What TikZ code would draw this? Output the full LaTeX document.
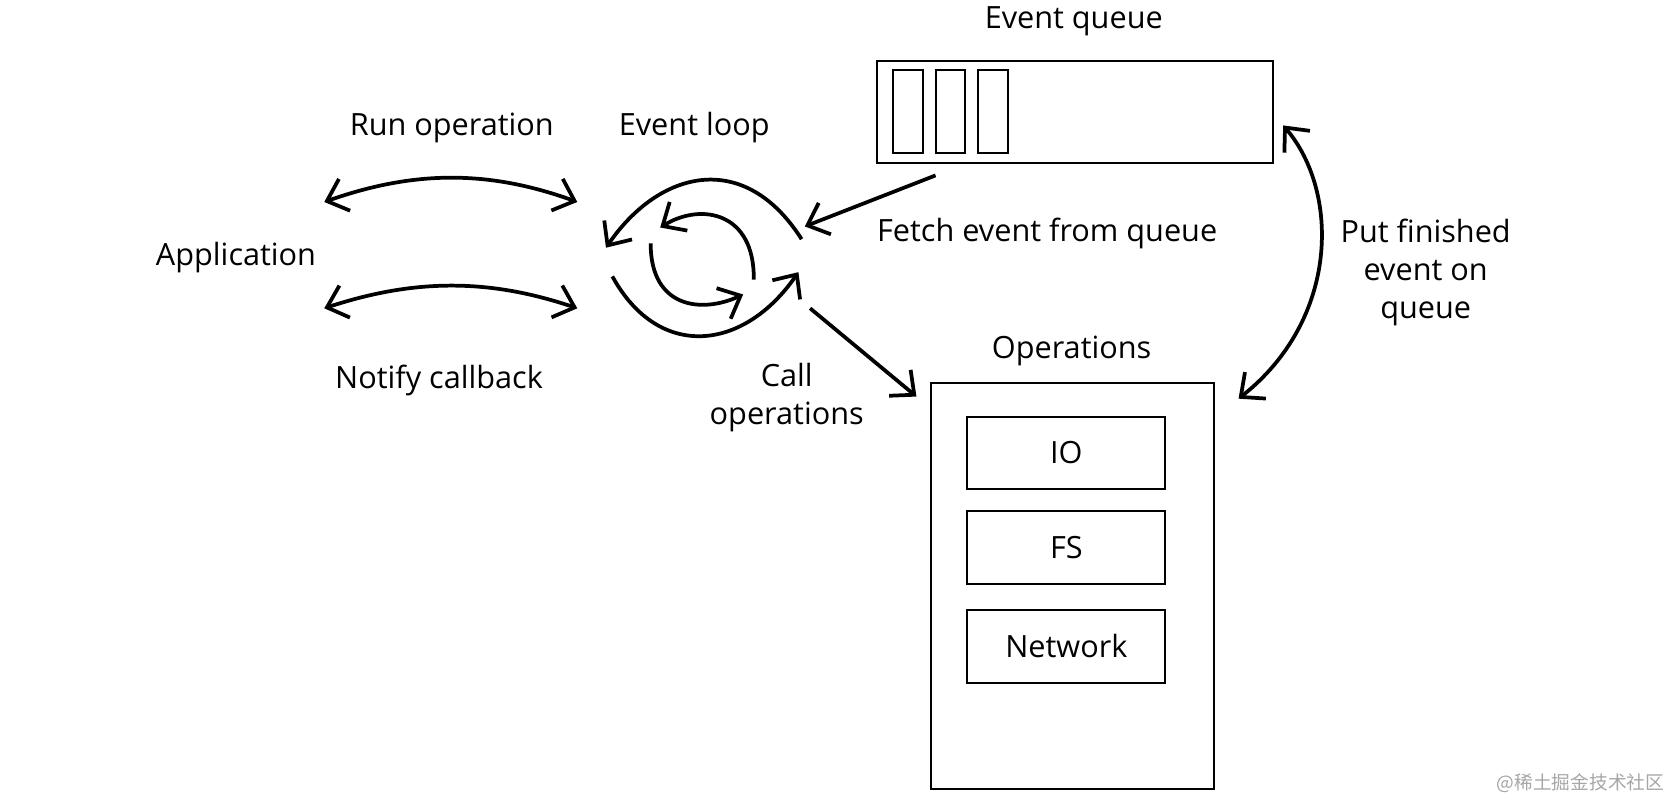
\documentclass[tikz,border=0pt]{standalone}
\usepackage{fontspec}
\setmainfont{Open Sans}
\newfontfamily\cjk{Noto Sans CJK SC}
\usetikzlibrary{arrows.meta}
\begin{document}
\begin{tikzpicture}[x=0.01cm,y=-0.01cm,
  lbl/.style={font=\fontsize{8.2}{10.2}\selectfont,align=center,inner sep=0},
  box/.style={draw,line width=0.55pt,inner sep=0},
  arr/.style={line width=1pt,-{Straight Barb[length=5pt,width=9pt]}},
  darr/.style={line width=1pt,{Straight Barb[length=5pt,width=9pt]}-{Straight Barb[length=5pt,width=9pt]}}]
\useasboundingbox (0,0) rectangle (1568,752);
\node[lbl] (eqt) at (1010,20) {Event queue};
\node[box,minimum width=3.72cm,minimum height=0.96cm] (queue) at (1011,105) {};
\node[box,minimum width=0.28cm,minimum height=0.78cm] (s1) at (854,105) {};
\node[box,minimum width=0.28cm,minimum height=0.78cm] (s2) at (894,105) {};
\node[box,minimum width=0.28cm,minimum height=0.78cm] (s3) at (934,105) {};
\node[lbl] (run) at (425,120) {Run operation};
\node[lbl] (el) at (653,120) {Event loop};
\node[lbl] (app) at (222,242) {Application};
\node[lbl] (nc) at (413,358) {Notify callback};
\node[lbl] (fetch) at (985,220) {Fetch event from queue};
\node[lbl] (call) at (740,374) {Call\\operations};
\node[lbl] (opt) at (1008,330) {Operations};
\node[lbl] (put) at (1341,256) {Put finished\\event on\\queue};
\node[box,minimum width=2.66cm,minimum height=3.82cm] (ops) at (1009,551) {};
\node[box,minimum width=1.86cm,minimum height=0.68cm,font=\fontsize{8.2}{10}\selectfont] (io) at (1003,426) {IO};
\node[box,minimum width=1.86cm,minimum height=0.68cm,font=\fontsize{8.2}{10}\selectfont] (fs) at (1003,515) {FS};
\node[box,minimum width=1.86cm,minimum height=0.68cm,font=\fontsize{8.2}{10}\selectfont] (net) at (1003,608) {Network};
\node[font=\cjk\fontsize{5}{6}\selectfont,text=gray!70,anchor=east,inner sep=0] (wm) at (1566,737) {@稀土掘金技术社区};
\coordinate (a1) at (305,190); \coordinate (a2) at (543,190);
\coordinate (b1) at (305,290); \coordinate (b2) at (543,290);
\coordinate (o1s) at (754,225); \coordinate (o1e) at (570,233);
\coordinate (o2s) at (576,260); \coordinate (o2e) at (751,256);
\coordinate (i1s) at (709,263); \coordinate (i1e) at (621,214);
\coordinate (i2s) at (612,229); \coordinate (i2e) at (699,277);
\coordinate (f1) at (880,165); \coordinate (f2) at (757,213);
\coordinate (c1) at (762,290); \coordinate (c2) at (862,373);
\coordinate (p1) at (1165,375); \coordinate (p2) at (1207,118);
\draw[darr] (a1) .. controls (390,160) and (460,160) .. (a2);
\draw[darr] (b1) .. controls (390,262) and (460,262) .. (b2);
\draw[arr] (o1s) .. controls (700,140) and (620,160) .. (o1e);
\draw[arr] (o2s) .. controls (620,340) and (700,330) .. (o2e);
\draw[arr] (i1s) .. controls (710,200) and (660,190) .. (i1e);
\draw[arr] (i2s) .. controls (612,290) and (660,295) .. (i2e);
\draw[arr] (f1) -- (f2);
\draw[arr] (c1) -- (c2);
\draw[darr] (p1) .. controls (1260,300) and (1260,180) .. (p2);
\end{tikzpicture}
\end{document}
